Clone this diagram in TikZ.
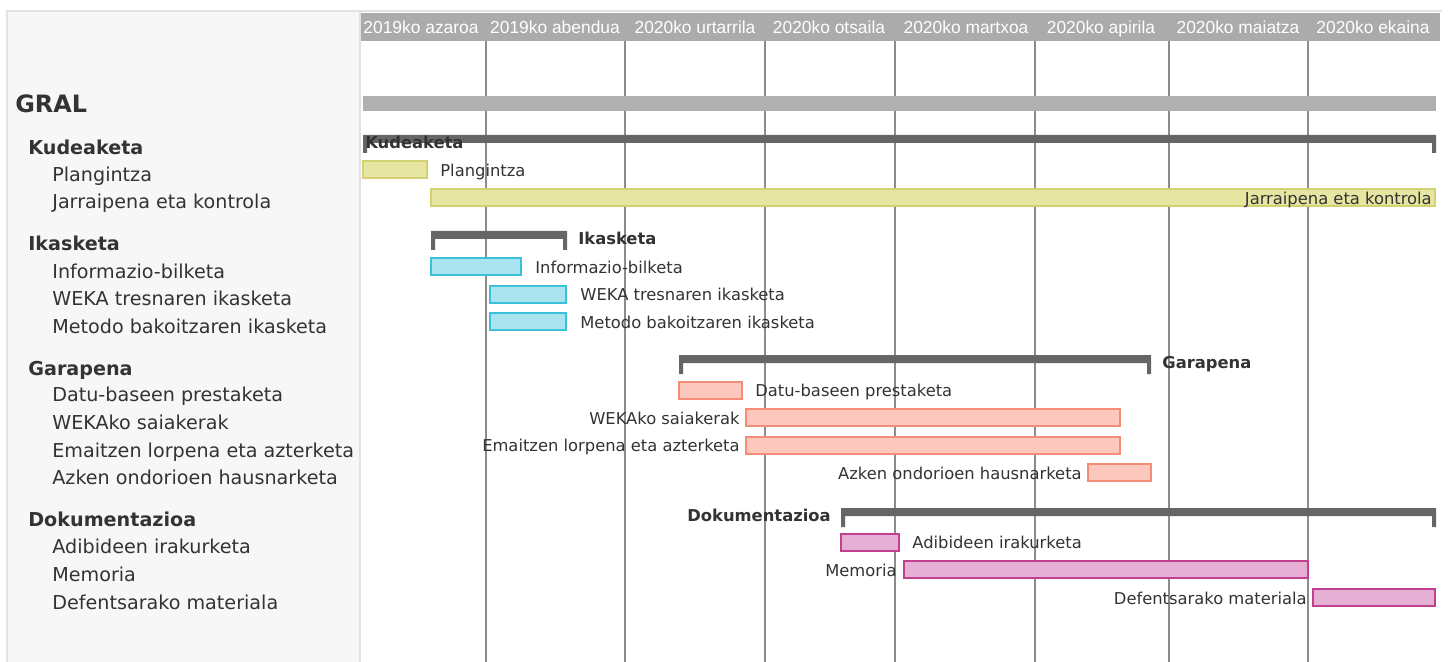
\documentclass[tikz,border=0pt]{standalone}
\usepackage{fontspec}
\setmainfont{DejaVu Sans}
\newfontfamily\monthfont{Liberation Sans}

\definecolor{panelbg}{HTML}{F7F7F7}
\definecolor{panelline}{HTML}{E2E2E2}
\definecolor{headbg}{HTML}{ABABAB}
\definecolor{gridcol}{HTML}{8C8C8C}
\definecolor{gralcol}{HTML}{B0B0B0}
\definecolor{summcol}{HTML}{666666}
\definecolor{txtcol}{HTML}{333333}
\definecolor{yfill}{RGB}{230,230,162}
\definecolor{yline}{RGB}{212,210,112}
\definecolor{cfill}{RGB}{170,228,240}
\definecolor{cline}{RGB}{60,192,218}
\definecolor{sfill}{RGB}{252,200,190}
\definecolor{sline}{RGB}{244,140,120}
\definecolor{pfill}{RGB}{230,176,212}
\definecolor{pline}{RGB}{190,64,142}

\begin{document}
\begin{tikzpicture}[x=0.02cm, y=-0.02cm,
  panel/.style={fill=panelbg, draw=panelline, line width=0.6pt},
  grid/.style={draw=gridcol, line width=0.8pt},
  month/.style={text=white, inner sep=0pt, yshift=-1pt, text height=0.75em, text depth=0.25em, font=\monthfont\fontsize{9.9}{12}\selectfont},
  gral/.style={anchor=west, inner sep=0pt, yshift=-0.5pt, text=txtcol, font=\bfseries\fontsize{13.6}{16}\selectfont},
  grp/.style={anchor=west, inner sep=0pt, yshift=-1.5pt, text=txtcol, text height=0.75em, text depth=0.25em, font=\bfseries\fontsize{10.9}{13}\selectfont},
  item/.style={anchor=west, inner sep=0pt, yshift=-1.5pt, text=txtcol, text height=0.75em, text depth=0.25em, font=\fontsize{10.9}{13}\selectfont},
  lbl/.style={inner sep=0pt, yshift=-1.2pt, text=txtcol, text height=0.75em, text depth=0.25em, font=\fontsize{9.3}{11}\selectfont},
  slbl/.style={lbl, font=\bfseries\fontsize{9.3}{11}\selectfont},
  summ/.style={fill=summcol},
  ybar/.style={fill=yfill, draw=yline, line width=0.8pt},
  cbar/.style={fill=cfill, draw=cline, line width=0.8pt},
  sbar/.style={fill=sfill, draw=sline, line width=0.8pt},
  pbar/.style={fill=pfill, draw=pline, line width=0.8pt}]

\useasboundingbox (0,0) rectangle (1450,662);
\fill[white] (0,0) rectangle (1450,662);

% left panel
\draw[panel] (7,11) rectangle (360,672);
\draw[panelline, line width=0.6pt] (360,11) -- (1442,11);

\node[gral]	(gral)	at (15,103)	{GRAL};
\node[grp]	(kudL)	at (28,147)	{Kudeaketa};
\node[item]	(planL)	at (52,174)	{Plangintza};
\node[item]	(jarrL)	at (52,201)	{Jarraipena eta kontrola};
\node[grp]	(ikaL)	at (28,243)	{Ikasketa};
\node[item]	(infoL)	at (52,271)	{Informazio-bilketa};
\node[item]	(wekaL)	at (52,298)	{WEKA tresnaren ikasketa};
\node[item]	(metoL)	at (52,326)	{Metodo bakoitzaren ikasketa};
\node[grp]	(garL)	at (28,368)	{Garapena};
\node[item]	(datuL)	at (52,394)	{Datu-baseen prestaketa};
\node[item]	(saiL)	at (52,422)	{WEKAko saiakerak};
\node[item]	(emaL)	at (52,450)	{Emaitzen lorpena eta azterketa};
\node[item]	(azkL)	at (52,477)	{Azken ondorioen hausnarketa};
\node[grp]	(dokL)	at (28,519)	{Dokumentazioa};
\node[item]	(adiL)	at (52,546)	{Adibideen irakurketa};
\node[item]	(memL)	at (52,574)	{Memoria};
\node[item]	(defL)	at (52,602)	{Defentsarako materiala};

% header
\fill[headbg] (361,13) rectangle (1440,41);
\node[month]	(m1)	at (421,27)	{2019ko azaroa};
\node[month]	(m2)	at (555,27)	{2019ko abendua};
\node[month]	(m3)	at (695,27)	{2020ko urtarrila};
\node[month]	(m4)	at (829,27)	{2020ko otsaila};
\node[month]	(m5)	at (966,27)	{2020ko martxoa};
\node[month]	(m6)	at (1101,27)	{2020ko apirila};
\node[month]	(m7)	at (1238,27)	{2020ko maiatza};
\node[month]	(m8)	at (1373,27)	{2020ko ekaina};

% month lines
\draw[grid] (486,41) -- (486,662);
\draw[grid] (625,41) -- (625,662);
\draw[grid] (765,41) -- (765,662);
\draw[grid] (895,41) -- (895,662);
\draw[grid] (1035,41) -- (1035,662);
\draw[grid] (1169,41) -- (1169,662);
\draw[grid] (1308,41) -- (1308,662);

% GRAL
\fill[gralcol] (363,96) rectangle (1436,111);

% Kudeaketa
\fill[summ] (363,135) rectangle (1436,143) (363,135) rectangle (367,153) (1432,135) rectangle (1436,153);
\node[slbl, anchor=west]	(kudT)	at (365,142)	{Kudeaketa};
\draw[ybar] (363,161) rectangle (427,178);
\node[lbl, anchor=west]	(planT)	at (440,170)	{Plangintza};
\draw[ybar] (431,189) rectangle (1435,206);
\node[lbl, anchor=east]	(jarrT)	at (1432,198)	{Jarraipena eta kontrola};

% Ikasketa
\fill[summ] (431,231) rectangle (567,239) (431,231) rectangle (435,250) (563,231) rectangle (567,250);
\node[slbl, anchor=west]	(ikaT)	at (578,238)	{Ikasketa};
\draw[cbar] (431,258) rectangle (521,275);
\node[lbl, anchor=west]	(infoT)	at (535,267)	{Informazio-bilketa};
\draw[cbar] (490,286) rectangle (566,303);
\node[lbl, anchor=west]	(wekaT)	at (580,294)	{WEKA tresnaren ikasketa};
\draw[cbar] (490,313) rectangle (566,330);
\node[lbl, anchor=west]	(metoT)	at (580,322)	{Metodo bakoitzaren ikasketa};

% Garapena
\fill[summ] (679,355) rectangle (1151,363) (679,355) rectangle (683,374) (1147,355) rectangle (1151,374);
\node[slbl, anchor=west]	(garT)	at (1162,362)	{Garapena};
\draw[sbar] (679,382) rectangle (742,399);
\node[lbl, anchor=west]	(datuT)	at (755,390)	{Datu-baseen prestaketa};
\draw[sbar] (746,409) rectangle (1120,426);
\node[lbl, anchor=east]	(saiT)	at (740,418)	{WEKAko saiakerak};
\draw[sbar] (746,437) rectangle (1120,454);
\node[lbl, anchor=east]	(emaT)	at (740,445)	{Emaitzen lorpena eta azterketa};
\draw[sbar] (1088,464) rectangle (1151,481);
\node[lbl, anchor=east]	(azkT)	at (1082,473)	{Azken ondorioen hausnarketa};

% Dokumentazioa
\fill[summ] (841,508) rectangle (1436,516) (841,508) rectangle (845,527) (1432,508) rectangle (1436,527);
\node[slbl, anchor=east]	(dokT)	at (831,515)	{Dokumentazioa};
\draw[pbar] (841,534) rectangle (899,551);
\node[lbl, anchor=west]	(adiT)	at (912,542)	{Adibideen irakurketa};
\draw[pbar] (904,561) rectangle (1308,578);
\node[lbl, anchor=east]	(memT)	at (897,570)	{Memoria};
\draw[pbar] (1313,589) rectangle (1435,606);
\node[lbl, anchor=east]	(defT)	at (1307,598)	{Defentsarako materiala};

\end{tikzpicture}
\end{document}
